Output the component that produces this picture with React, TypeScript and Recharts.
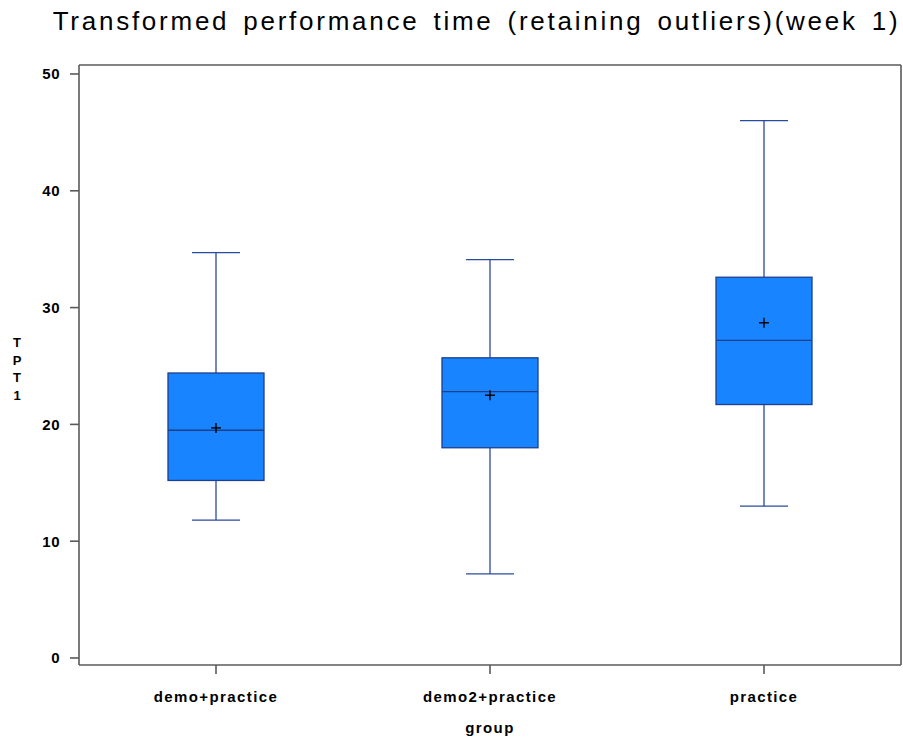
import { ComposedChart, Bar, XAxis, YAxis, CartesianGrid } from 'recharts';

const groups = ['demo+practice', 'demo2+practice', 'practice'];
const whiskerLow = [11.8, 7.2, 13.0];
const q1 = [15.2, 18.0, 21.7];
const median = [19.5, 22.8, 27.2];
const q3 = [24.4, 25.7, 32.6];
const whiskerHigh = [34.7, 34.1, 46.0];
const means = [19.7, 22.5, 28.7];
const yTicks = [0, 10, 20, 30, 40, 50];
const yDomain = [-0.6, 50.77];

const data = groups.map((g, i) => ({
  group: g,
  range: [whiskerLow[i], whiskerHigh[i]],
  q1: q1[i],
  median: median[i],
  q3: q3[i],
  mean: means[i],
}));

const BOX_FILL = '#1884ff';
const BOX_EDGE = '#1d3f8c';
const WHISKER = '#2a4a9c';
const AXIS = '#5a5a5a';

function BoxShape(props: any) {
  const { x, y, width, height, payload } = props;
  const [lo, hi] = payload.range;
  const unit = height / (hi - lo);
  const toY = (v: number) => y + (hi - v) * unit;
  const cx = x + width / 2;
  const cap = width / 4;
  const yQ1 = toY(payload.q1);
  const yQ3 = toY(payload.q3);
  const yMed = toY(payload.median);
  const yMean = toY(payload.mean);
  return (
    <g>
      <line x1={cx} x2={cx} y1={toY(hi)} y2={yQ3} stroke={WHISKER} strokeWidth={1.3} />
      <line x1={cx} x2={cx} y1={yQ1} y2={toY(lo)} stroke={WHISKER} strokeWidth={1.3} />
      <line x1={cx - cap} x2={cx + cap} y1={toY(hi)} y2={toY(hi)} stroke={WHISKER} strokeWidth={1.3} />
      <line x1={cx - cap} x2={cx + cap} y1={toY(lo)} y2={toY(lo)} stroke={WHISKER} strokeWidth={1.3} />
      <rect x={x} y={yQ3} width={width} height={yQ1 - yQ3} fill={BOX_FILL} stroke={BOX_EDGE} strokeWidth={1.3} />
      <line x1={x} x2={x + width} y1={yMed} y2={yMed} stroke={BOX_EDGE} strokeWidth={1.3} />
      <line x1={cx - 5} x2={cx + 5} y1={yMean} y2={yMean} stroke="#000" strokeWidth={1.4} />
      <line x1={cx} x2={cx} y1={yMean - 5} y2={yMean + 5} stroke="#000" strokeWidth={1.4} />
    </g>
  );
}

const tickStyle = {
  fontFamily: 'Liberation Sans',
  fontWeight: 'bold',
  fontSize: 15,
  letterSpacing: 1.4,
  fill: '#000',
};

export default function App() {
  return (
    <div style={{ position: 'absolute', left: 0, top: 0, width: 903, height: 740, background: '#fff' }}>
      <div
        style={{
          position: 'absolute',
          left: 0,
          width: 903,
          top: 8,
          textAlign: 'center',
          fontFamily: 'Liberation Sans',
          fontSize: 26,
          lineHeight: '26px',
          letterSpacing: 2.75,
          wordSpacing: 4,
          color: '#000',
          paddingLeft: 50,
          boxSizing: 'border-box',
          whiteSpace: 'nowrap',
        }}
      >
        Transformed performance time (retaining outliers)(week 1)
      </div>
      <div
        style={{
          position: 'absolute',
          left: 10,
          top: 334,
          width: 14,
          textAlign: 'center',
          fontFamily: 'Liberation Sans',
          fontWeight: 'bold',
          fontSize: 13,
          lineHeight: '17.5px',
        }}
      >
        T<br />P<br />T<br />1
      </div>
      <ComposedChart
        width={903}
        height={740}
        data={data}
        margin={{ top: 65, right: 2, bottom: 0, left: 0 }}
      >
        <CartesianGrid
          stroke={AXIS}
          strokeWidth={1.6}
          horizontalCoordinatesGenerator={({ offset }: any) => [offset.top]}
          verticalCoordinatesGenerator={({ offset }: any) => [offset.left + offset.width]}
        />
        <XAxis
          dataKey="group"
          stroke={AXIS}
          strokeWidth={1.6}
          tickSize={9}
          tick={tickStyle}
          tickMargin={17}
          height={75}
          label={{ value: 'group', position: 'insideBottom', offset: 7, style: tickStyle }}
        />
        <YAxis
          type="number"
          domain={yDomain}
          ticks={yTicks}
          allowDataOverflow
          width={79}
          stroke={AXIS}
          strokeWidth={1.6}
          tickSize={9}
          tickMargin={10}
          tick={{ ...tickStyle, letterSpacing: 0.5 }}
        />
        <Bar dataKey="range" barSize={96} shape={<BoxShape />} isAnimationActive={false} />
      </ComposedChart>
    </div>
  );
}
